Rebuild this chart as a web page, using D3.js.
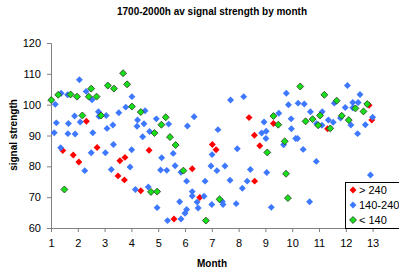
<!DOCTYPE html>
<html>
<head>
<meta charset="utf-8">
<script src="https://cdn.jsdelivr.net/npm/d3@7"></script>
<style>
  body { margin: 0; background: #fff; }
  svg { display: block; font-family: Arial, "Liberation Sans", sans-serif; }
  .axis path, .axis line { stroke: #808080; }
  .axis text { fill: #000; font-size: 11px; }
</style>
</head>
<body>
<svg id="graph" width="399" height="268"></svg>
<script>
// month / signal strength per series
var redMonth = [1.44, 1.83, 2.04, 2.32, 2.72, 3.50, 3.57, 3.74, 3.76, 4.35, 4.66, 5.59, 6.27, 6.55, 7.02, 7.16, 8.39, 8.59, 8.60, 8.79, 9.30, 11.32, 12.87, 12.97];
var redValue = [85.1, 83.7, 81.4, 94.6, 86.1, 76.9, 81.8, 75.6, 82.9, 72.1, 85.2, 62.9, 79.2, 69.9, 87.1, 85.4, 95.8, 90.1, 75.2, 86.7, 93.9, 92.2, 99.8, 95.0];

var blueMonth = [1.12, 1.16, 1.20, 1.36, 1.38, 1.62, 1.63, 1.65, 1.88, 1.90, 2.06, 2.09, 2.26, 2.31, 2.50, 2.53, 2.56, 2.77, 2.79, 3.03,
  3.06, 3.09, 3.25, 3.31, 3.33, 3.53, 3.79, 3.95, 4.01, 4.02, 4.15, 4.21, 4.23, 4.42, 4.47, 4.51, 4.63, 4.68, 4.93, 4.96,
  5.09, 5.13, 5.32, 5.35, 5.39, 5.56, 5.63, 5.80, 5.85, 5.85, 6.00, 6.06, 6.06, 6.09, 6.27, 6.27, 6.34, 6.45, 6.49, 6.71,
  6.75, 6.97, 7.00, 7.01, 7.19, 7.23, 7.39, 7.42, 7.49, 7.68, 7.70, 7.91, 7.95, 8.14, 8.19, 8.32, 8.44, 8.86, 8.95, 9.02,
  9.03, 9.05, 9.22, 9.50, 9.68, 9.78, 9.86, 9.96, 9.97, 10.13, 10.20, 10.22, 10.41, 10.45, 10.65, 10.68, 10.90, 10.91, 11.11, 11.12,
  11.35, 11.53, 11.57, 11.80, 11.98, 12.06, 12.19, 12.26, 12.26, 12.44, 12.46, 12.53, 12.73, 12.92, 13.00];
var blueValue = [90.9, 100.1, 94.1, 86.0, 103.7, 103.2, 90.6, 93.9, 96.3, 90.5, 108.1, 94.4, 78.6, 104.3, 84.4, 101.6, 90.9, 97.7, 96.2, 84.4,
  96.5, 92.3, 79.0, 93.4, 87.1, 97.4, 99.2, 79.8, 85.4, 102.6, 72.5, 93.0, 95.0, 89.6, 93.8, 98.0, 73.3, 91.3, 95.4, 66.6,
  78.8, 82.8, 78.7, 62.4, 93.7, 84.2, 80.2, 68.5, 62.9, 78.1, 64.8, 66.0, 75.2, 93.1, 71.8, 70.4, 96.1, 68.4, 66.5, 70.3,
  75.2, 80.1, 67.6, 83.8, 78.6, 91.9, 68.6, 67.6, 80.1, 75.5, 101.5, 67.9, 85.7, 72.9, 102.6, 75.2, 79.0, 90.8, 94.4, 89.0,
  91.4, 78.0, 66.7, 97.2, 87.0, 103.7, 100.0, 95.4, 92.2, 89.0, 89.0, 100.5, 85.5, 100.2, 68.5, 97.7, 81.6, 93.8, 93.3, 97.7,
  95.0, 94.3, 100.5, 95.7, 99.1, 106.2, 93.4, 100.7, 99.0, 90.6, 100.7, 103.3, 93.5, 77.2, 95.9];

var greenMonth = [1.01, 1.27, 1.50, 1.73, 1.97, 2.17, 2.41, 2.50, 2.70, 2.87, 3.12, 3.35, 3.69, 3.84, 4.02, 4.35, 4.73, 4.86, 4.96, 5.12,
  5.28, 5.44, 5.65, 5.94, 6.78, 7.29, 9.07, 9.30, 9.48, 9.72, 9.77, 9.84, 10.30, 10.50, 10.76, 10.97, 11.04, 11.20, 11.42, 11.66,
  11.85, 12.11, 12.36, 12.66, 12.80];
var greenValue = [101.5, 103.2, 72.5, 103.3, 102.6, 96.5, 102.6, 105.2, 102.6, 96.5, 106.2, 105.2, 110.2, 106.6, 99.4, 97.6, 71.7, 90.8, 71.8, 93.5,
  95.9, 89.5, 86.9, 78.6, 62.4, 69.3, 84.5, 96.3, 93.5, 88.1, 77.6, 69.7, 105.9, 94.6, 95.3, 93.3, 96.5, 103.2, 92.3, 101.3,
  96.4, 95.0, 98.8, 97.8, 100.2];

var seriesNames = ["> 240", "140-240", "< 140"];
var monthTicks = [1, 2, 3, 4, 5, 6, 7, 8, 9, 10, 11, 12, 13];
var valueTicks = [60, 70, 80, 90, 100, 110, 120];

function creaGrafica() {
    var svg = d3.select("#graph");

    var x = d3.scaleLinear().domain([1, 14]).range([51, 399.4]);
    var y = d3.scaleLinear().domain([60, 120]).range([228, 43]);

    // title + axis titles
    svg.append("text")
        .attr("x", 212).attr("y", 15)
        .attr("text-anchor", "middle")
        .style("font-size", "10px").style("font-weight", "bold")
        .text("1700-2000h av signal strength by month");
    svg.append("text")
        .attr("x", 212).attr("y", 267)
        .attr("text-anchor", "middle")
        .style("font-size", "10px").style("font-weight", "bold")
        .text("Month");
    svg.append("text")
        .attr("transform", "translate(17,135) rotate(-90)")
        .attr("text-anchor", "middle")
        .style("font-size", "10px").style("font-weight", "bold")
        .text("signal strength");

    svg.append("g").attr("class", "axis")
        .attr("transform", "translate(0,228)")
        .call(d3.axisBottom(x).tickValues(monthTicks).tickFormat(d3.format("d")).tickSizeOuter(0).tickSize(4).tickPadding(7));
    svg.append("g").attr("class", "axis")
        .attr("transform", "translate(51,0)")
        .call(d3.axisLeft(y).tickValues(valueTicks).tickSizeOuter(0).tickSize(4).tickPadding(6));

    var diamond = d3.symbol().type(d3.symbolSquare).size(24);

    function puntos(mx, vy, fill, stroke) {
        var data = mx.map((m, i) => ({ m: m, v: vy[i] }));
        svg.append("g").selectAll("path")
            .data(data).enter()
            .append("path")
            .attr("d", diamond)
            .attr("transform", d => "translate(" + x(d.m) + "," + y(d.v) + ") rotate(45)")
            .attr("fill", fill)
            .attr("stroke", stroke)
            .attr("stroke-width", stroke == "none" ? 0 : 0.8);
    }
    puntos(redMonth, redValue, "#ff0000", "none");
    puntos(blueMonth, blueValue, "#3d78ff", "none");
    puntos(greenMonth, greenValue, "#18e018", "#2a402a");

    // legend
    var legend = svg.append("g").attr("transform", "translate(345,182)");
    legend.append("rect")
        .attr("x", 0.5).attr("y", 0.5).attr("width", 60).attr("height", 46)
        .attr("fill", "#fff").attr("stroke", "#000");
    var colores = [["#ff0000", "none"], ["#3d78ff", "none"], ["#18e018", "#2a402a"]];
    seriesNames.forEach((n, i) => {
        legend.append("path")
            .attr("d", diamond)
            .attr("transform", "translate(8," + (8 + i * 15) + ") rotate(45)")
            .attr("fill", colores[i][0])
            .attr("stroke", colores[i][1])
            .attr("stroke-width", colores[i][1] == "none" ? 0 : 0.8);
        legend.append("text")
            .attr("x", 14).attr("y", 12 + i * 15)
            .style("font-size", "11px")
            .text(n);
    });
}

creaGrafica();
</script>
</body>
</html>
